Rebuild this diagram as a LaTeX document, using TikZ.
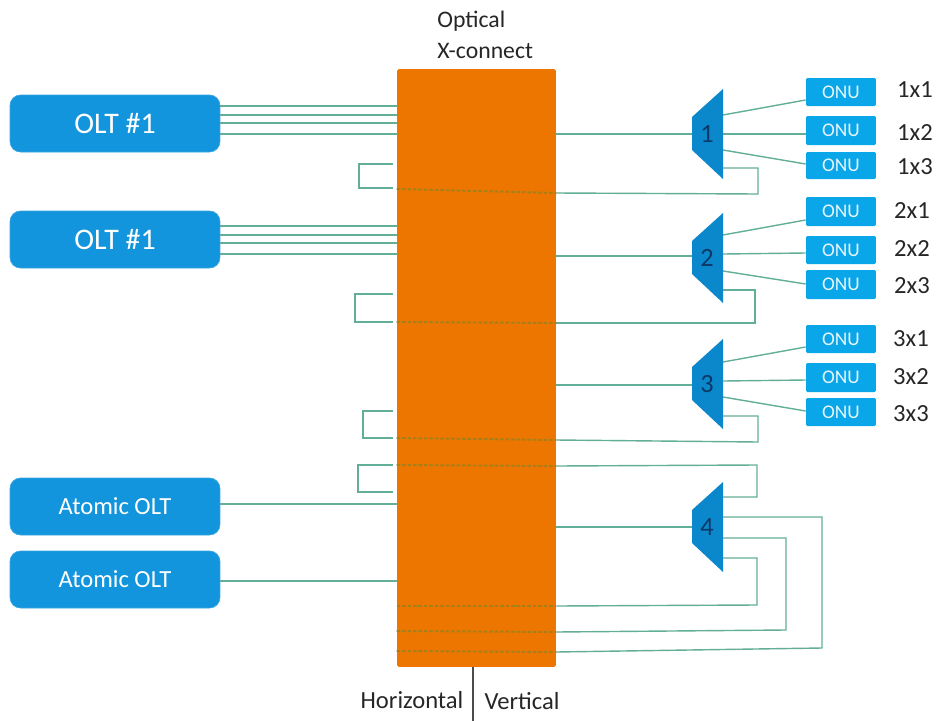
\documentclass[tikz,border=0pt]{standalone}
\usepackage{fontspec}
\setmainfont{Carlito}
\usetikzlibrary{calc}
\definecolor{oltblue}{HTML}{1295DC}
\definecolor{onublue}{HTML}{0AA6EA}
\definecolor{muxblue}{HTML}{0B88CB}
\definecolor{muxtext}{HTML}{0C3A68}
\definecolor{xorange}{HTML}{EC7600}
\definecolor{fibregreen}{HTML}{62AE98}
\definecolor{crossgreen}{HTML}{A5801A}
\definecolor{labelgrey}{HTML}{262626}
\tikzset{
  oltbox/.style={fill=oltblue, draw=oltblue!85!white, rounded corners=6pt, minimum width=4.2cm,
    minimum height=1.14cm, inner sep=0pt, text=white},
  onubox/.style={fill=onublue, rounded corners=0.8pt, minimum width=1.4cm, inner sep=0pt,
    text=white!90!onublue, font=\fontsize{11}{13}\selectfont},
  fibre/.style={fibregreen, line width=0.8pt},
  crossing/.style={crossgreen, line width=1.1pt, dash pattern=on 2pt off 1.1pt},
  caption/.style={labelgrey, font=\fontsize{14}{17}\selectfont},
}
% one splitter, the slanted side faces the x-connect
\newcommand{\muxcell}[3]{%
  \begin{scope}[shift={(0,#2)}]
    \fill[muxblue] (692,-17) -- (723,-45) -- (723,45) -- (692,16) -- cycle;
    \node[muxtext, inner sep=0pt, font=\fontsize{15}{18}\selectfont] (mux#1) at (707,0) {#3};
    \coordinate (mux#1in) at (692,0);
    \coordinate (mux#1out) at (723,0);
  \end{scope}
}
% stub on the horizontal side of the x-connect
\newcommand{\leftstub}[3]{%
  \draw[fibre] (stubedge |- 0,#2) -- (#1,#2) -- (#1,#3) -- (stubedge |- 0,#3);
}
\begin{document}
\begin{tikzpicture}[x=0.02cm, y=-0.02cm]
  \useasboundingbox (0,0) rectangle (938,721);

  % ---------- X-connect ----------
  \node[fill=xorange, rounded corners=1pt, minimum width=3.18cm, minimum height=11.96cm, inner sep=0pt]
    (xconnect) at (476.5,368) {};
  \node[caption, anchor=west, align=left, inner sep=0pt, font=\fontsize{13.5}{17.6}\selectfont] (title) at (437,34.5)
    {Optical\\X-connect};
  \coordinate (stubedge) at (393,0);
  \coordinate (axistop) at (473,667);
  \coordinate (axisbottom) at (473,721);
  \draw[black!70, line width=0.7pt] (axistop) -- (axisbottom);
  \node[caption, inner sep=0pt] (horizontal) at (412,700) {Horizontal};
  \node[caption, inner sep=0pt] (vertical) at (522,701) {Vertical};

  % ---------- OLTs ----------
  \node[oltbox, font=\fontsize{17}{20}\selectfont] (oltA) at (115,123.5) {OLT \#1};
  \node[oltbox, font=\fontsize{17}{20}\selectfont] (oltB) at (115,239.5) {OLT \#1};
  \node[oltbox, font=\fontsize{14}{17}\selectfont] (atomicA) at (115,506.5) {Atomic OLT};
  \node[oltbox, font=\fontsize{14}{17}\selectfont] (atomicB) at (115,579.5) {Atomic OLT};

  \foreach \y in {106,115,123,134}
    \draw[fibre] (oltA.east |- 0,\y) -- (xconnect.west |- 0,\y);
  \foreach \y in {226,235,243,254}
    \draw[fibre] (oltB.east |- 0,\y) -- (xconnect.west |- 0,\y);
  \draw[fibre] (atomicA.east |- 0,504) -- (xconnect.west |- 0,504);
  \draw[fibre] (atomicB.east |- 0,581) -- (xconnect.west |- 0,581);

  % ---------- Splitters ----------
  \muxcell{1}{134}{1}
  \muxcell{2}{258}{2}
  \muxcell{3}{384}{3}
  \muxcell{4}{527}{4}

  \draw[fibre] (xconnect.east |- 0,134) -- (mux1in |- 0,134);
  \draw[fibre] (xconnect.east |- 0,256) -- (mux2in |- 0,256);
  \draw[fibre] (xconnect.east |- 0,385) -- (mux3in |- 0,385);
  \draw[fibre] (xconnect.east |- 0,527) -- (mux4in |- 0,527);

  % ---------- ONUs ----------
  \foreach \name/\y/\h/\txtx/\txty/\txt in {
    11/92/28/915/90/1x1, 12/130.5/29/915/133/1x2, 13/165.5/27/915/167/1x3,
    21/211.5/29/912/211/2x1, 22/250/28/912/249/2x2, 23/284.5/29/912/286/2x3,
    31/339/28/911/339/3x1, 32/377.5/29/911/377/3x2, 33/412/28/911/414/3x3} {
    \node[onubox, minimum height=\h*0.02cm] (onu\name) at (841,\y) {ONU};
    \node[caption, inner sep=0pt] (lab\name) at (\txtx,\txty) {\txt};
  }

  \draw[fibre] (mux1out |- 0,115) -- (onu11.west |- 0,100);
  \draw[fibre] (mux1out |- 0,134) -- (onu12.west |- 0,134);
  \draw[fibre] (mux1out |- 0,150) -- (onu13.west |- 0,164);
  \draw[fibre] (mux2out |- 0,235) -- (onu21.west |- 0,220);
  \draw[fibre] (mux2out |- 0,254) -- (onu22.west |- 0,253);
  \draw[fibre] (mux2out |- 0,271) -- (onu23.west |- 0,284);
  \draw[fibre] (mux3out |- 0,362) -- (onu31.west |- 0,347);
  \draw[fibre] (mux3out |- 0,381) -- (onu32.west |- 0,380);
  \draw[fibre] (mux3out |- 0,397) -- (onu33.west |- 0,411);

  % ---------- Loops back through the x-connect ----------
  \draw[fibre] (mux1out |- 0,168) -- (758,168) -- (758,194) -- (xconnect.east |- 0,193);
  \draw[fibre] (mux2out |- 0,290) -- (755,290) -- (755,323) -- (xconnect.east |- 0,323);
  \draw[fibre] (mux3out |- 0,416) -- (758,416) -- (758,442) -- (xconnect.east |- 0,440);
  \draw[fibre] (mux4out |- 0,497) -- (757,497) -- (757,465) -- (xconnect.east |- 0,466);
  \draw[fibre] (mux4out |- 0,517) -- (822,517) -- (822,648) -- (xconnect.east |- 0,652);
  \draw[fibre] (mux4out |- 0,538) -- (786,538) -- (786,630) -- (xconnect.east |- 0,632);
  \draw[fibre] (mux4out |- 0,558) -- (757,558) -- (757,605) -- (xconnect.east |- 0,606);

  \leftstub{359}{164}{188}
  \leftstub{355}{294}{322}
  \leftstub{363}{411}{438}
  \leftstub{358}{465}{492}

  \foreach \ya/\yb in {189/193,322/323,438/440,465/466,606/606,631/632,651/652}
    \draw[crossing] (xconnect.west |- 0,\ya) -- (xconnect.east |- 0,\yb);
\end{tikzpicture}
\end{document}
